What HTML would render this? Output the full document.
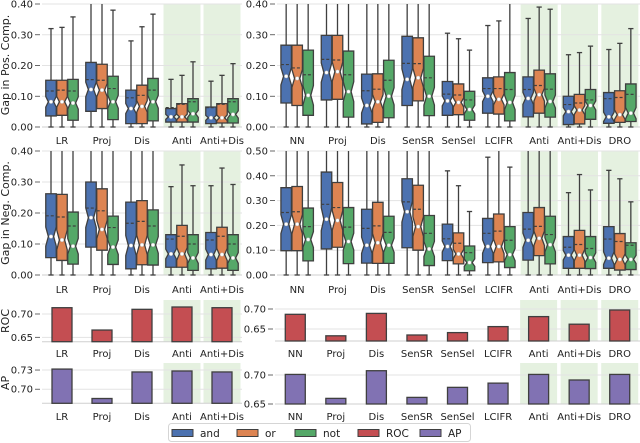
<!DOCTYPE html>
<html><head><meta charset="utf-8">
<style>
html,body{margin:0;padding:0;background:#fff;}
svg{display:block;font-family:"DejaVu Sans","Liberation Sans",sans-serif;}
</style></head>
<body>
<svg id="chart" width="640" height="443" viewBox="0 0 640 443" xmlns="http://www.w3.org/2000/svg"></svg>
<script>
// ---- categories ----
const leftCats = ["LR","Proj","Dis","Anti","Anti+Dis"];
const rightCats = ["NN","Proj","Dis","SenSR","SenSel","LCIFR","Anti","Anti+Dis","DRO"];
const leftShaded = ["Anti","Anti+Dis"];
const rightShaded = ["Anti","Anti+Dis","DRO"];
const seriesNames = ["and","or","not"];
// ---- tick labels ----
const gapTicks4 = [0,0.1,0.2,0.3,0.4];
const gapTicks5 = [0,0.1,0.2,0.3,0.4,0.5];
const rocLeftTicks = [0.65,0.70];
const rocRightTicks = [0.65,0.70];
const apLeftTicks = [0.70,0.73];
const apRightTicks = [0.65,0.70];
// ---- box stats [q1, median, q3, mean, upperWhisker] ----
const posLeftAnd = [[0.036,0.082,0.152,0.117,0.32],[0.051,0.122,0.21,0.154,0.45],[0.011,0.06,0.12,0.095,0.28],[0.016,0.033,0.06,0.063,0.155],[0.011,0.03,0.065,0.063,0.149]];
const posLeftOr  = [[0.038,0.082,0.152,0.12,0.324],[0.06,0.12,0.204,0.152,0.45],[0.011,0.067,0.136,0.103,0.326],[0.016,0.033,0.076,0.074,0.168],[0.013,0.03,0.076,0.074,0.168]];
const posLeftNot = [[0.022,0.078,0.155,0.117,0.358],[0.024,0.082,0.165,0.125,0.38],[0.02,0.082,0.158,0.12,0.367],[0.016,0.043,0.092,0.082,0.212],[0.013,0.041,0.092,0.082,0.206]];
const posRightAnd = [[0.078,0.165,0.266,0.203,0.45],[0.088,0.177,0.298,0.22,0.45],[0.01,0.07,0.172,0.118,0.45],[0.07,0.155,0.295,0.207,0.45],[0.038,0.085,0.148,0.107,0.305],[0.045,0.1,0.16,0.125,0.33],[0.033,0.093,0.163,0.122,0.353],[0.008,0.05,0.1,0.073,0.235],[0.012,0.033,0.112,0.092,0.252]];
const posRightOr  = [[0.07,0.158,0.266,0.192,0.45],[0.09,0.18,0.298,0.218,0.45],[0.015,0.082,0.173,0.123,0.45],[0.085,0.16,0.29,0.206,0.45],[0.04,0.08,0.14,0.104,0.287],[0.042,0.09,0.163,0.125,0.345],[0.045,0.105,0.185,0.135,0.39],[0.01,0.055,0.106,0.078,0.242],[0.015,0.04,0.118,0.096,0.272]];
const posRightNot = [[0.038,0.103,0.25,0.17,0.45],[0.032,0.115,0.247,0.17,0.45],[0.03,0.1,0.217,0.152,0.45],[0.037,0.1,0.23,0.16,0.45],[0.022,0.057,0.116,0.088,0.25],[0.02,0.08,0.177,0.122,0.45],[0.032,0.083,0.173,0.123,0.383],[0.025,0.07,0.122,0.088,0.263],[0.018,0.045,0.14,0.106,0.32]];
const negLeftAnd = [[0.056,0.124,0.262,0.191,0.45],[0.09,0.185,0.3,0.216,0.45],[0.02,0.095,0.235,0.167,0.45],[0.025,0.068,0.13,0.116,0.285],[0.02,0.066,0.137,0.113,0.288]];
const negLeftOr  = [[0.047,0.113,0.26,0.187,0.45],[0.08,0.147,0.278,0.207,0.45],[0.033,0.097,0.24,0.173,0.45],[0.025,0.068,0.16,0.125,0.355],[0.022,0.066,0.154,0.125,0.345]];
const negLeftNot = [[0.035,0.093,0.203,0.158,0.45],[0.034,0.09,0.19,0.153,0.45],[0.032,0.097,0.21,0.158,0.45],[0.015,0.055,0.13,0.1,0.288],[0.015,0.055,0.13,0.1,0.292]];
const negRightAnd = [[0.098,0.205,0.352,0.252,0.55],[0.105,0.225,0.415,0.285,0.55],[0.048,0.12,0.265,0.188,0.55],[0.11,0.255,0.388,0.295,0.55],[0.058,0.115,0.205,0.146,0.42],[0.05,0.115,0.228,0.168,0.475],[0.06,0.14,0.252,0.185,0.55],[0.027,0.08,0.155,0.112,0.332],[0.027,0.068,0.195,0.145,0.422]];
const negRightOr  = [[0.098,0.205,0.357,0.255,0.55],[0.112,0.22,0.373,0.272,0.55],[0.047,0.13,0.293,0.198,0.55],[0.1,0.195,0.362,0.265,0.55],[0.045,0.085,0.17,0.128,0.36],[0.053,0.115,0.246,0.177,0.55],[0.078,0.148,0.272,0.196,0.55],[0.027,0.08,0.18,0.123,0.405],[0.02,0.063,0.167,0.135,0.388]];
const negRightNot = [[0.057,0.143,0.27,0.195,0.55],[0.046,0.135,0.272,0.193,0.55],[0.047,0.12,0.237,0.172,0.55],[0.038,0.105,0.24,0.168,0.55],[0.017,0.05,0.117,0.09,0.256],[0.03,0.082,0.195,0.14,0.435],[0.045,0.122,0.237,0.163,0.55],[0.026,0.07,0.155,0.107,0.343],[0.022,0.063,0.13,0.12,0.295]];
// ---- bar values ----
const rocLeft = [0.7135,0.6656,0.710,0.715,0.7135];
const rocRight = [0.6867,0.633,0.689,0.635,0.641,0.656,0.681,0.662,0.6975];
const apLeft = [0.7315,0.6855,0.727,0.7285,0.727];
const apRight = [0.701,0.6597,0.7074,0.6614,0.6787,0.686,0.701,0.6914,0.701];

const NS="http://www.w3.org/2000/svg";
const svg=document.getElementById('chart');
const C={and:"#4c72b0",or:"#dd8452",not:"#55a868",ROC:"#c44e52",AP:"#8172b3",edge:"#3f3f3f",grid:"#e3e3e3",shade:"#e5f1e0"};
function el(tag,attrs,parent){const e=document.createElementNS(NS,tag);for(const k in attrs)e.setAttribute(k,attrs[k]);(parent||svg).appendChild(e);return e;}

function panel(name,x0,x1,yTop,yBot,vmin,vmax,cats,shaded,ticks,fmt,labelY){
  const g=el('g',{});
  
  
  const step=(x1-x0)/cats.length;
  const xs=i=>x0+step*(i+0.5);
  const ys=v=>yBot-(v-vmin)/(vmax-vmin)*(yBot-yTop);
  cats.forEach((c,i)=>{ if(shaded.includes(c)){
    const r=el('rect',{x:xs(i)-18.5,y:yTop,width:37,height:yBot-yTop,fill:C.shade},g);
    
    
  }});
  ticks.forEach(t=>{
    const yy=ys(t);
    el('line',{x1:x0,x2:x1,y1:yy,y2:yy,stroke:C.grid,'stroke-width':1},g);
    el('line',{x1:x0-7,x2:x0-2,y1:yy,y2:yy,stroke:"#444",'stroke-width':0.8},g);
    const tx=el('text',{x:x0-9,y:yy+3.5,'font-size':10,'text-anchor':'end',fill:'#222'},g);
    tx.textContent=t.toFixed(2);
    
    
  });
  el('line',{x1:x0,x2:x1,y1:yBot,y2:yBot,stroke:"#cfcfcf",'stroke-width':1},g);
  cats.forEach((c,i)=>{
    const tx=el('text',{x:xs(i),y:labelY,'font-size':10,'text-anchor':'middle',fill:'#222'},g);
    tx.textContent=c;
    
    
  });
  return {g,xs,ys,step};
}

function boxPanel(name,x0,x1,yTop,yBot,vmax,cats,shaded,ticks,labelY,sets){
  const p=panel(name,x0,x1,yTop,yBot,0,vmax,cats,shaded,ticks,null,labelY);
  const clip=el('clipPath',{id:'clip-'+name},p.g);
  el('rect',{x:x0,y:yTop,width:x1-x0,height:yBot-yTop+2},clip);
  const inner=el('g',{'clip-path':'url(#clip-'+name+')'},p.g);
  const bw=10.5, stride=11;
  sets.forEach((arr,s)=>{
    arr.forEach((d,i)=>{
      const [q1,med,q3,mean,wh]=d;
      const cx=p.xs(i)+(s-1)*stride;
      const bx=el('g',{},inner);
      
      
      // whiskers
      el('line',{x1:cx,x2:cx,y1:p.ys(q3),y2:p.ys(wh),stroke:C.edge,'stroke-width':1.3},bx);
      el('line',{x1:cx,x2:cx,y1:p.ys(q1),y2:p.ys(0),stroke:C.edge,'stroke-width':1.3},bx);
      el('line',{x1:cx-bw/4,x2:cx+bw/4,y1:p.ys(wh),y2:p.ys(wh),stroke:C.edge,'stroke-width':1.3},bx);
      el('line',{x1:cx-bw/4,x2:cx+bw/4,y1:p.ys(0),y2:p.ys(0),stroke:C.edge,'stroke-width':1.3},bx);
      const n=Math.max(0.008,0.15*(q3-q1));
      const nh=Math.min(q3,med+n), nl=Math.max(q1,med-n);
      const L=cx-bw/2,R=cx+bw/2,inn=bw*0.25;
      const pts=[[L,p.ys(q1)],[R,p.ys(q1)],[R,p.ys(nl)],[R-inn,p.ys(med)],[R,p.ys(nh)],[R,p.ys(q3)],[L,p.ys(q3)],[L,p.ys(nh)],[L+inn,p.ys(med)],[L,p.ys(nl)]];
      el('polygon',{points:pts.map(q=>q.join(',')).join(' '),fill:C[seriesNames[s]],stroke:C.edge,'stroke-width':1.3},bx);
      el('line',{x1:L+inn,x2:R-inn,y1:p.ys(med),y2:p.ys(med),stroke:C.edge,'stroke-width':1.2},bx);
      el('line',{x1:L,x2:R,y1:p.ys(mean),y2:p.ys(mean),stroke:C.edge,'stroke-width':1.2,'stroke-dasharray':'3,2'},bx);
      el('circle',{cx:cx,cy:p.ys(med),r:1.8,fill:'#fff',stroke:'#bbb','stroke-width':0.5},bx);
    });
  });
}

function barPanel(name,x0,x1,yTop,yBot,vmin,vmax,cats,shaded,ticks,labelY,vals,color,kind){
  const p=panel(name,x0,x1,yTop,yBot,vmin,vmax,cats,shaded,ticks,null,labelY);
  vals.forEach((v,i)=>{
    const cx=p.xs(i), w=20;
    const r=el('rect',{x:cx-w/2,y:p.ys(v),width:w,height:yBot-p.ys(v),fill:color,stroke:C.edge,'stroke-width':1.3},p.g);
    
    
  });
}

boxPanel('pos-left-panel',42,242,4,127,0.4,leftCats,leftShaded,gapTicks4,144,[posLeftAnd,posLeftOr,posLeftNot]);
boxPanel('pos-right-panel',277,640,4,127,0.4,rightCats,rightShaded,gapTicks4,144,[posRightAnd,posRightOr,posRightNot]);
boxPanel('neg-left-panel',42,242,151,275,0.4,leftCats,leftShaded,gapTicks4,293,[negLeftAnd,negLeftOr,negLeftNot]);
boxPanel('neg-right-panel',277,640,151,275,0.5,rightCats,rightShaded,gapTicks5,293,[negRightAnd,negRightOr,negRightNot]);
barPanel('roc-left-panel',42,242,300,341.7,0.6406,0.730,leftCats,leftShaded,rocLeftTicks,357,rocLeft,C.ROC,'roc');
barPanel('roc-right-panel',275,640,300,341,0.62,0.7225,rightCats,rightShaded,rocRightTicks,357,rocRight,C.ROC,'roc');
barPanel('ap-left-panel',42,242,363,403.3,0.678,0.741,leftCats,leftShaded,apLeftTicks,420,apLeft,C.AP,'ap');
barPanel('ap-right-panel',275,640,363,404,0.65,0.7207,rightCats,rightShaded,apRightTicks,420,apRight,C.AP,'ap');

function ytitle(txt,y,name){
  const t=el('text',{x:0,y:0,'font-size':11,'text-anchor':'middle',fill:'#222',transform:`translate(9,${y}) rotate(-90)`});
  t.textContent=txt;
  
  
}
ytitle('Gap in Pos. Comp.',65,'y-axis-title-pos');
ytitle('Gap in Neg. Comp.',213,'y-axis-title-neg');
ytitle('ROC',321,'y-axis-title-roc');
ytitle('AP',383,'y-axis-title-ap');

// legend
const lg=el('g',{});


el('rect',{x:168.5,y:423.5,width:302,height:18,rx:3,fill:'#fff',stroke:'#d5d5d5','stroke-width':1},lg);
const legNames=["and","or","not","ROC","AP"];
const legX=[172,237,295,358,420];
legNames.forEach((nm,i)=>{
  const e=el('g',{},lg);
  
  
  el('rect',{x:legX[i],y:429.5,width:21,height:7,fill:C[nm],stroke:C.edge,'stroke-width':1},e);
  const t=el('text',{x:legX[i]+28,y:437,'font-size':10.5,fill:'#222'},e);
  t.textContent=nm;
});
</script>
</body></html>
